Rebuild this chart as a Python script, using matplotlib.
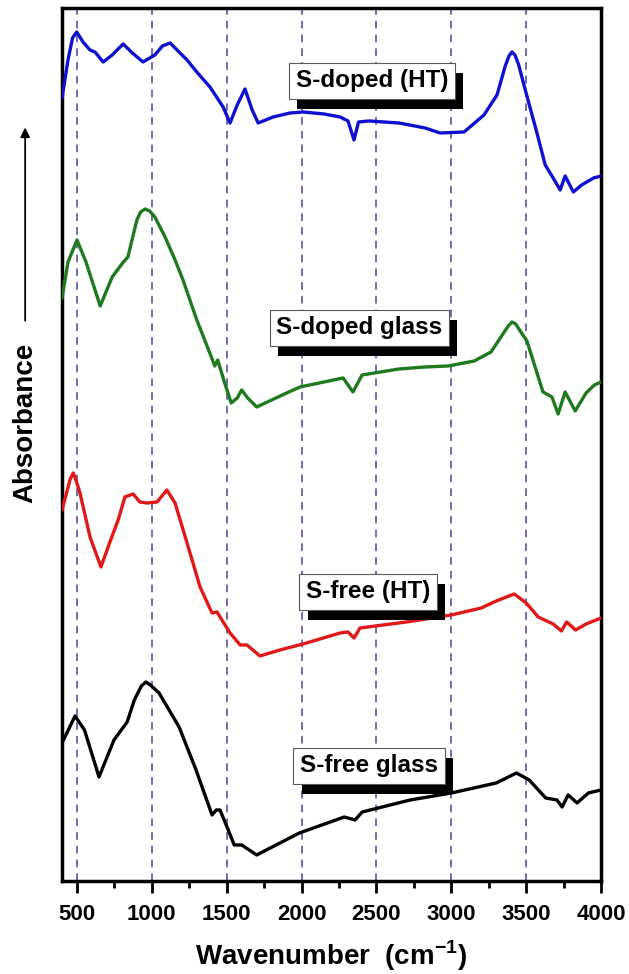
import matplotlib
matplotlib.use("Agg")
import matplotlib.pyplot as plt
import matplotlib.patheffects as pe
from matplotlib.ticker import MultipleLocator

plt.rcParams['font.family'] = ['Liberation Sans', 'DejaVu Sans']
plt.rcParams['font.weight'] = 'bold'
plt.rcParams['mathtext.fontset'] = 'custom'
plt.rcParams['mathtext.rm'] = 'Liberation Sans:bold'
plt.rcParams['mathtext.bf'] = 'Liberation Sans:bold'

# S-doped (HT)
wn_sd_ht = [400, 440, 470, 498, 540, 587, 620, 675, 735, 808, 870, 941, 1020, 1070, 1122, 1235, 1300,
            1388, 1476, 1522, 1570, 1622, 1670, 1710, 1810, 1923, 2010, 2150, 2257, 2310,
            2350, 2380, 2450, 2650, 2825, 2925, 3085, 3218, 3305, 3360, 3385, 3405, 3425, 3450, 3485,
            3530, 3570, 3627, 3680, 3727, 3760, 3815, 3870, 3950, 4000]
abs_sd_ht = [8.05, 8.43, 8.65, 8.71, 8.61, 8.53, 8.51, 8.41, 8.48, 8.59, 8.50, 8.41, 8.48, 8.57, 8.60, 8.43, 8.31,
             8.16, 7.96, 7.80, 7.98, 8.14, 7.93, 7.80, 7.86, 7.90, 7.91, 7.89, 7.86, 7.82,
             7.63, 7.81, 7.82, 7.80, 7.75, 7.70, 7.71, 7.88, 8.08, 8.37, 8.47, 8.51, 8.48, 8.38, 8.18,
             7.93, 7.71, 7.38, 7.25, 7.13, 7.27, 7.11, 7.18, 7.25, 7.27]

# S-doped glass
wn_sd_gl = [400, 440, 500, 560, 655, 735, 810, 840, 900, 925, 955, 985, 1020, 1088, 1155, 1208, 1300,
            1400, 1420, 1440, 1480, 1530, 1570, 1600, 1640, 1700, 1800, 1900, 1990, 2150,
            2277, 2343, 2404, 2650, 2825, 2980, 3153, 3265, 3340, 3380, 3405, 3430, 3460, 3505, 3570,
            3612, 3672, 3713, 3760, 3827, 3900, 3955, 4000]
abs_sd_gl = [6.05, 6.41, 6.63, 6.41, 5.97, 6.26, 6.41, 6.46, 6.83, 6.91, 6.94, 6.92, 6.86, 6.66, 6.43, 6.23, 5.83,
             5.45, 5.37, 5.43, 5.23, 5.00, 5.05, 5.13, 5.05, 4.96, 5.03, 5.10, 5.16, 5.21,
             5.25, 5.11, 5.28, 5.34, 5.36, 5.37, 5.42, 5.51, 5.68, 5.77, 5.81, 5.79, 5.72, 5.62, 5.31,
             5.11, 5.06, 4.89, 5.11, 4.92, 5.10, 5.18, 5.21]

# S-free (HT)
wn_sf_ht = [400, 455, 475, 495, 520, 587, 660, 720, 775, 820, 875, 920, 968, 1035, 1100, 1155, 1235,
            1322, 1402, 1435, 1468, 1522, 1590, 1635, 1722, 1855, 2010, 2257, 2310, 2350,
            2390, 2700, 3000, 3200, 3300, 3420, 3500, 3580, 3680, 3735, 3770, 3830, 3900, 4000]
abs_sf_ht = [3.93, 4.24, 4.30, 4.22, 4.10, 3.66, 3.36, 3.61, 3.83, 4.06, 4.09, 4.01, 4.00, 4.01, 4.13, 4.00, 3.60,
             3.16, 2.90, 2.91, 2.83, 2.70, 2.58, 2.58, 2.47, 2.53, 2.59, 2.70, 2.71, 2.65,
             2.75, 2.81, 2.88, 2.95, 3.02, 3.09, 3.00, 2.86, 2.79, 2.72, 2.81, 2.73, 2.79, 2.85]

# S-free glass
wn_sf_gl = [400, 487, 550, 647, 747, 835, 883, 930, 960, 990, 1048, 1182, 1295, 1402, 1430, 1455, 1502,
            1550, 1600, 1700, 1985, 2285, 2357, 2405, 2725, 3000, 3300, 3435, 3520, 3630,
            3705, 3740, 3780, 3840, 3915, 4000]
abs_sf_gl = [1.60, 1.87, 1.73, 1.26, 1.63, 1.81, 2.03, 2.17, 2.21, 2.18, 2.10, 1.76, 1.33, 0.88, 0.93, 0.93, 0.76,
             0.58, 0.58, 0.48, 0.70, 0.86, 0.83, 0.91, 1.03, 1.10, 1.20, 1.30, 1.23, 1.05,
             1.03, 0.96, 1.08, 1.00, 1.10, 1.13]

band_lines = [500, 1000, 1500, 2000, 2500, 3000, 3500]

series = [
    (wn_sd_ht, abs_sd_ht, '#1010d0', 'S-doped (HT)', 2470, 8.22),
    (wn_sd_gl, abs_sd_gl, '#1f7a1f', 'S-doped glass', 2385, 5.75),
    (wn_sf_ht, abs_sf_ht, '#e01818', 'S-free (HT)', 2445, 3.11),
    (wn_sf_gl, abs_sf_gl, 'black', 'S-free glass', 2450, 1.37),
]

fig = plt.figure(figsize=(6.29, 9.74), dpi=100)
ax = fig.add_axes([0.0986, 0.0955, 0.857, 0.8963])

for xv in band_lines:
    ax.axvline(xv, color='#4646a0', lw=1.1, ls=(0, (5, 4)), zorder=1)

for wn, ab, col, name, tx, ty in series:
    ax.plot(wn, ab, color=col, lw=2.4, zorder=3, solid_joinstyle='round', solid_capstyle='round')
    t = ax.text(tx, ty, name, fontsize=17.5, fontweight='bold', ha='center', va='center',
                zorder=5,
                bbox=dict(boxstyle='square,pad=0.27', fc='white', ec='0.35', lw=0.8))
    t.get_bbox_patch().set_path_effects([
        pe.SimplePatchShadow(offset=(6, -7), shadow_rgbFace='black', alpha=1.0),
        pe.Normal()])

ax.set_xlim(400, 4000)
ax.set_ylim(0.22, 8.95)
ax.xaxis.set_major_locator(MultipleLocator(500))
ax.xaxis.set_minor_locator(MultipleLocator(250))
ax.tick_params(axis='x', which='major', direction='out', length=8.5, width=2, labelsize=16, pad=8)
ax.tick_params(axis='x', which='minor', direction='out', length=5, width=2)
ax.set_yticks([])
for sp in ax.spines.values():
    sp.set_linewidth(2.5)

ax.set_xlabel('Wavenumber  (cm$^{\\mathbf{-1}}$)', fontsize=20, fontweight='bold', labelpad=10)

fig.text(0.040, 0.566, 'Absorbance', rotation=90, fontsize=20, fontweight='bold',
         ha='center', va='center')
fig.add_artist(matplotlib.patches.FancyArrowPatch((0.040, 0.668), (0.040, 0.872),
               transform=fig.transFigure, arrowstyle='-|>', mutation_scale=14,
               color='black', lw=1.3))

fig.savefig('out.png', dpi=100)
